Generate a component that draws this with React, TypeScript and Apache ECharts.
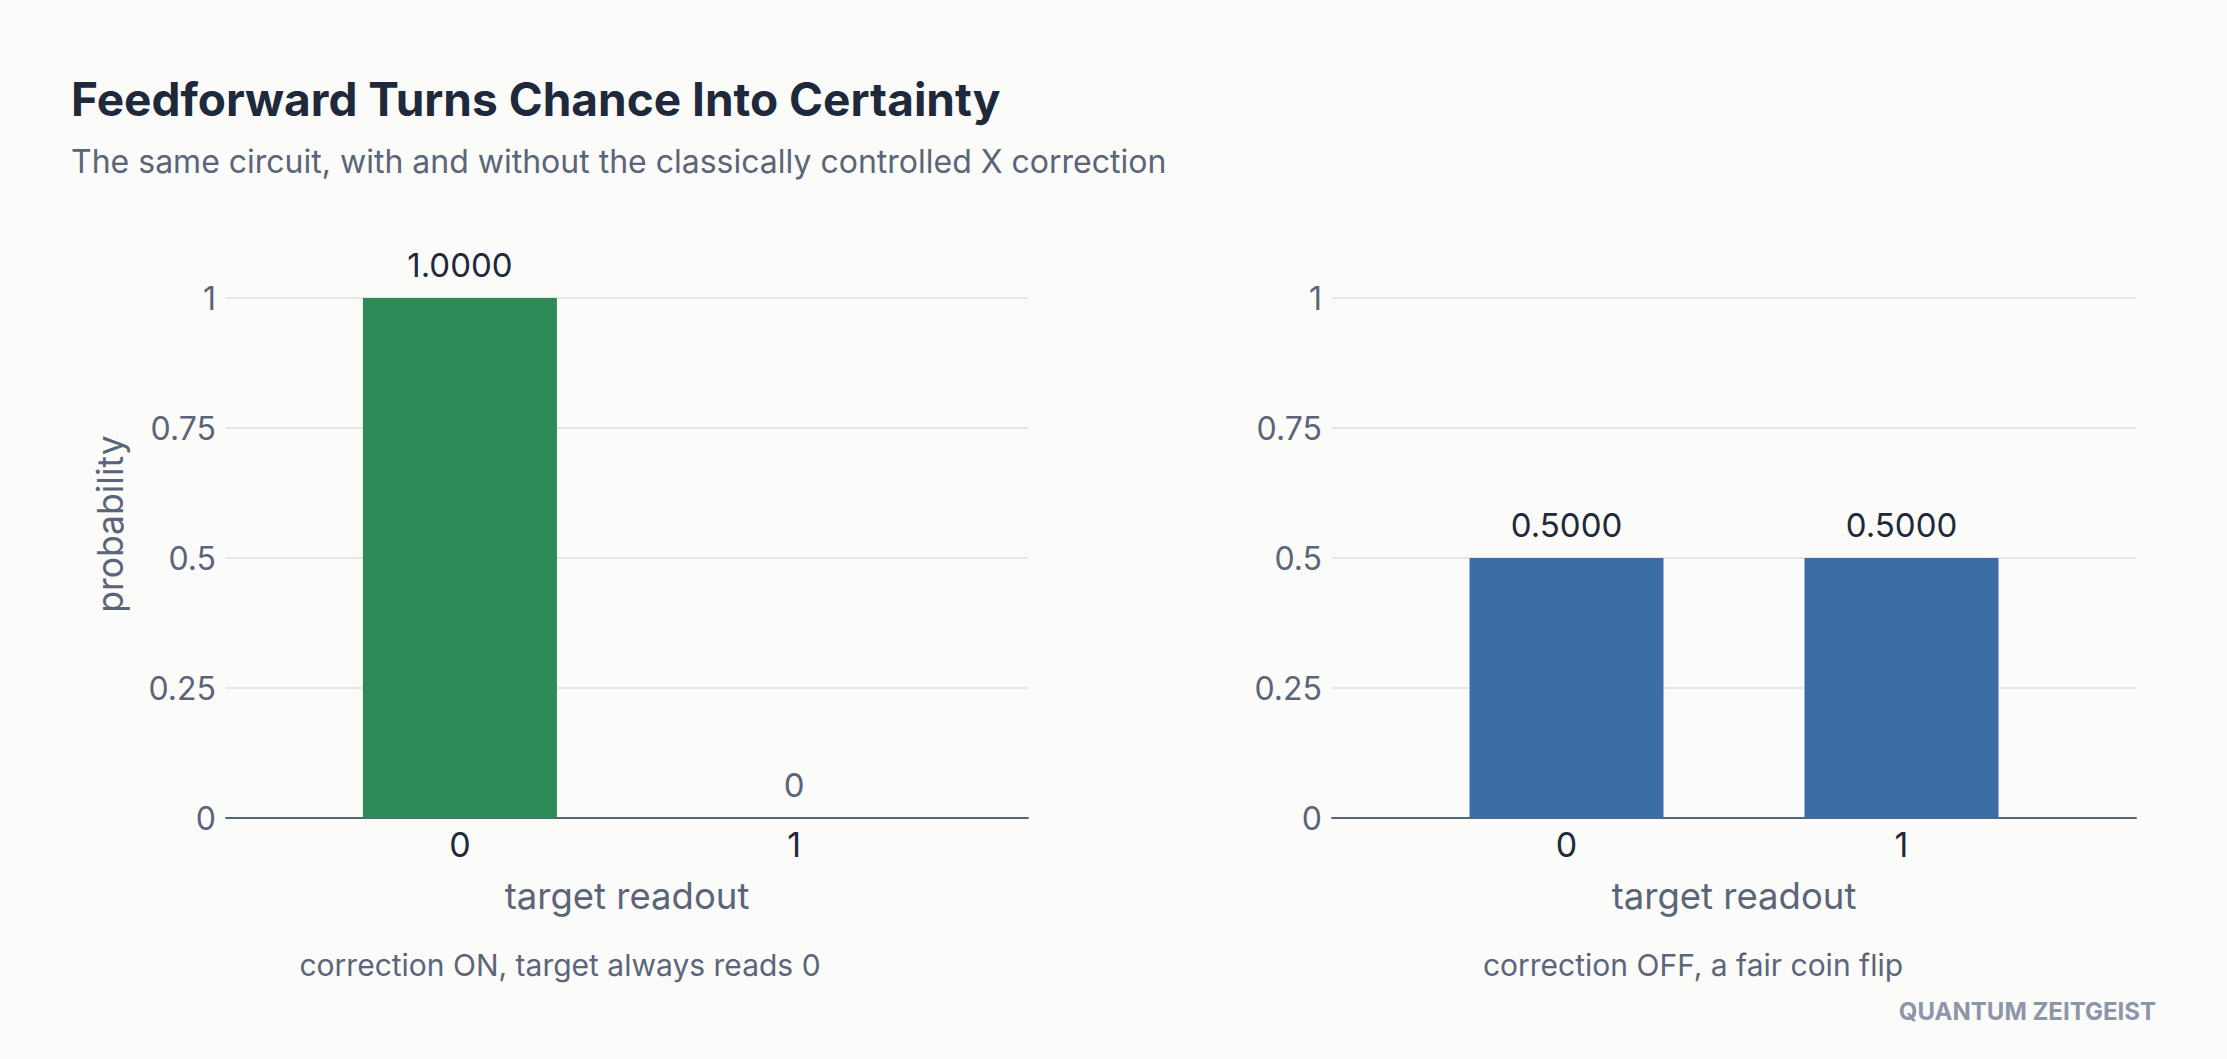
import React, { useEffect, useRef } from "react";
import * as echarts from "echarts";

// Measurement outcomes for the target qubit
const readouts = [0, 1];
const probWithCorrection = [1, 0];
const probWithoutCorrection = [0.5, 0.5];
const yTicks = [0, 0.25, 0.5, 0.75, 1];

const TITLE = "Feedforward Turns Chance Into Certainty";
const SUBTITLE = "The same circuit, with and without the classically controlled X correction";
const CAPTION_ON = "correction ON, target always reads 0";
const CAPTION_OFF = "correction OFF, a fair coin flip";
const BRAND = "QUANTUM ZEITGEIST";

const FONT = "Inter, 'Noto Sans', sans-serif";
const DARK = "#1e293b";
const SLATE = "#5b6579";
const GRID = "#e6e6e4";
const GREEN = "#2e8b57";
const BLUE = "#3a6ea5";

const fmtValue = (v: number) => (v === 0 ? "0" : v.toFixed(4));

function barSeries(values: number[], color: string, axisIndex: number) {
  return {
    type: "bar",
    xAxisIndex: axisIndex,
    yAxisIndex: axisIndex,
    barWidth: 194,
    data: values.map((v, i) => ({
      value: [readouts[i], v],
      label: { color: v === 0 ? SLATE : DARK },
    })),
    itemStyle: { color },
    label: {
      show: true,
      position: "top",
      distance: 17,
      fontFamily: FONT,
      fontSize: 33,
      formatter: (p: any) => fmtValue(p.value[1]),
    },
  };
}

function xAxisFor(gridIndex: number) {
  return {
    type: "value",
    gridIndex,
    min: -0.7,
    max: 1.7,
    name: "target readout",
    nameLocation: "middle",
    nameGap: 59,
    nameTextStyle: { fontFamily: FONT, fontSize: 36.5, color: SLATE },
    axisLine: { show: true, lineStyle: { color: SLATE, width: 2 } },
    axisTick: { show: false },
    splitLine: { show: false },
    axisLabel: {
      customValues: readouts,
      fontFamily: FONT,
      fontSize: 34,
      color: DARK,
      margin: 9,
    },
  };
}

function yAxisFor(gridIndex: number) {
  return {
    type: "value",
    gridIndex,
    min: yTicks[0],
    max: yTicks[yTicks.length - 1],
    interval: 0.25,
    axisLine: { show: false },
    axisTick: { show: false },
    splitLine: { show: true, lineStyle: { color: GRID, width: 2 } },
    axisLabel: { fontFamily: FONT, fontSize: 32, color: SLATE, margin: 10 },
  };
}

export default function App() {
  const ref = useRef<HTMLDivElement>(null);

  useEffect(() => {
    if (!ref.current) return;
    const chart = echarts.init(ref.current, undefined, { renderer: "svg" });
    chart.setOption({
      animation: false,
      backgroundColor: "#fbfbfa",
      title: [
        {
          text: TITLE,
          left: 66,
          top: 71,
          textStyle: { fontFamily: FONT, fontSize: 46, fontWeight: 700, color: DARK },
        },
        {
          text: SUBTITLE,
          left: 66,
          top: 140,
          textStyle: { fontFamily: FONT, fontSize: 32, fontWeight: 400, color: SLATE },
        },
      ],
      grid: [
        { left: 226, top: 298, width: 802, height: 520 },
        { left: 1332, top: 298, width: 804, height: 520 },
      ],
      xAxis: [xAxisFor(0), xAxisFor(1)],
      yAxis: [yAxisFor(0), yAxisFor(1)],
      series: [
        barSeries(probWithCorrection, GREEN, 0),
        barSeries(probWithoutCorrection, BLUE, 1),
      ],
      graphic: [
        {
          type: "text",
          x: 110,
          y: 524,
          rotation: Math.PI / 2,
          style: {
            text: "probability",
            fontFamily: FONT,
            fontSize: 35.5,
            fill: SLATE,
            textAlign: "center",
            textVerticalAlign: "middle",
          },
        },
        {
          type: "text",
          x: 560,
          y: 965,
          style: {
            text: CAPTION_ON,
            fontFamily: FONT,
            fontSize: 30,
            fill: SLATE,
            textAlign: "center",
            textVerticalAlign: "middle",
          },
        },
        {
          type: "text",
          x: 1693,
          y: 965,
          style: {
            text: CAPTION_OFF,
            fontFamily: FONT,
            fontSize: 30,
            fill: SLATE,
            textAlign: "center",
            textVerticalAlign: "middle",
          },
        },
        {
          type: "text",
          x: 2156,
          y: 1011,
          style: {
            text: BRAND,
            fontFamily: FONT,
            fontSize: 24,
            fontWeight: 700,
            fill: "#8c96a8",
            textAlign: "right",
            textVerticalAlign: "middle",
          },
        },
      ],
    });
    return () => chart.dispose();
  }, []);

  return (
    <div
      ref={ref}
      style={{ position: "fixed", left: 0, top: 0, width: 2227, height: 1059 }}
    />
  );
}
